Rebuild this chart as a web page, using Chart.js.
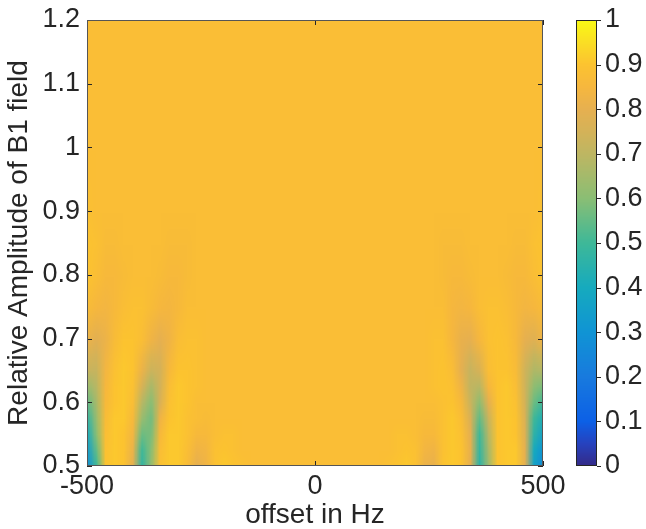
<!DOCTYPE html>
<html>
<head>
<meta charset="utf-8">
<script src="https://cdn.jsdelivr.net/npm/chart.js@4/dist/chart.umd.min.js"></script>
<style>
  html, body { margin: 0; padding: 0; background: #fff; }
</style>
</head>
<body>
<canvas id="map" width="646" height="529"></canvas>
<script>
// offset in Hz (columns of the map)
const offsets = [-500, -480, -460, -440, -420, -400, -380, -360, -340, -320, -300, -280, -260, -240, -220, -200, -180,
  -160, -140, -120, -100, -80, -60, -40, -20, 0, 20, 40, 60, 80, 100, 120, 140, 160,
  180, 200, 220, 240, 260, 280, 300, 320, 340, 360, 380, 400, 420, 440, 460, 480, 500];

// relative B1 amplitude (rows of the map)
const yLevels = [0.5, 0.525, 0.55, 0.575, 0.6, 0.625, 0.65, 0.7, 0.75, 0.8, 0.85, 0.9, 1.0, 1.1, 1.2];

// value, one row per amplitude
const row0500 = [0.28, 0.50, 0.90, 0.91, 0.90, 0.80, 0.47, 0.62, 0.89, 0.91, 0.91, 0.87, 0.80, 0.83, 0.89, 0.91, 0.90,
  0.89, 0.88, 0.88, 0.88, 0.88, 0.88, 0.88, 0.88, 0.88, 0.88, 0.88, 0.88, 0.88, 0.88, 0.88, 0.88, 0.89,
  0.90, 0.91, 0.89, 0.82, 0.81, 0.90, 0.91, 0.90, 0.80, 0.46, 0.64, 0.90, 0.91, 0.91, 0.80, 0.36, 0.26];
const row0525 = [0.33, 0.55, 0.89, 0.91, 0.90, 0.82, 0.50, 0.60, 0.88, 0.91, 0.91, 0.88, 0.83, 0.84, 0.89, 0.90, 0.89,
  0.88, 0.88, 0.88, 0.88, 0.88, 0.88, 0.88, 0.88, 0.88, 0.88, 0.88, 0.88, 0.88, 0.88, 0.88, 0.88, 0.88,
  0.89, 0.90, 0.89, 0.84, 0.83, 0.89, 0.91, 0.90, 0.81, 0.48, 0.66, 0.90, 0.91, 0.91, 0.80, 0.40, 0.30];
const row0550 = [0.40, 0.60, 0.88, 0.91, 0.90, 0.84, 0.56, 0.58, 0.86, 0.91, 0.91, 0.89, 0.86, 0.86, 0.88, 0.89, 0.89,
  0.88, 0.88, 0.88, 0.88, 0.88, 0.88, 0.88, 0.88, 0.88, 0.88, 0.88, 0.88, 0.88, 0.88, 0.88, 0.88, 0.88,
  0.89, 0.89, 0.88, 0.86, 0.86, 0.89, 0.91, 0.89, 0.80, 0.50, 0.69, 0.90, 0.91, 0.90, 0.78, 0.46, 0.36];
const row0575 = [0.47, 0.63, 0.87, 0.91, 0.91, 0.86, 0.63, 0.57, 0.83, 0.90, 0.91, 0.89, 0.88, 0.87, 0.88, 0.88, 0.88,
  0.88, 0.88, 0.88, 0.88, 0.88, 0.88, 0.88, 0.88, 0.88, 0.88, 0.88, 0.88, 0.88, 0.88, 0.88, 0.88, 0.88,
  0.88, 0.88, 0.88, 0.87, 0.87, 0.89, 0.91, 0.88, 0.77, 0.55, 0.73, 0.90, 0.91, 0.90, 0.77, 0.50, 0.42];
const row0600 = [0.55, 0.66, 0.86, 0.90, 0.91, 0.88, 0.69, 0.60, 0.77, 0.89, 0.91, 0.90, 0.88, 0.88, 0.88, 0.88, 0.88,
  0.88, 0.88, 0.88, 0.88, 0.88, 0.88, 0.88, 0.88, 0.88, 0.88, 0.88, 0.88, 0.88, 0.88, 0.88, 0.88, 0.88,
  0.88, 0.88, 0.88, 0.88, 0.88, 0.89, 0.90, 0.86, 0.73, 0.61, 0.80, 0.90, 0.91, 0.89, 0.75, 0.56, 0.50];
const row0625 = [0.63, 0.69, 0.85, 0.90, 0.91, 0.89, 0.76, 0.66, 0.75, 0.88, 0.91, 0.90, 0.89, 0.88, 0.88, 0.88, 0.88,
  0.88, 0.88, 0.88, 0.88, 0.88, 0.88, 0.88, 0.88, 0.88, 0.88, 0.88, 0.88, 0.88, 0.88, 0.88, 0.88, 0.88,
  0.88, 0.88, 0.88, 0.88, 0.89, 0.90, 0.89, 0.83, 0.71, 0.69, 0.85, 0.90, 0.91, 0.88, 0.74, 0.61, 0.58];
const row0650 = [0.72, 0.72, 0.84, 0.89, 0.91, 0.90, 0.82, 0.73, 0.75, 0.86, 0.90, 0.90, 0.89, 0.88, 0.88, 0.88, 0.88,
  0.88, 0.88, 0.88, 0.88, 0.88, 0.88, 0.88, 0.88, 0.88, 0.88, 0.88, 0.88, 0.88, 0.88, 0.88, 0.88, 0.88,
  0.88, 0.88, 0.88, 0.88, 0.89, 0.90, 0.88, 0.80, 0.72, 0.76, 0.88, 0.90, 0.90, 0.87, 0.74, 0.67, 0.68];
const row0700 = [0.82, 0.79, 0.82, 0.87, 0.90, 0.90, 0.88, 0.83, 0.80, 0.83, 0.88, 0.89, 0.89, 0.88, 0.88, 0.88, 0.88,
  0.88, 0.88, 0.88, 0.88, 0.88, 0.88, 0.88, 0.88, 0.88, 0.88, 0.88, 0.88, 0.88, 0.88, 0.88, 0.88, 0.88,
  0.88, 0.88, 0.88, 0.88, 0.89, 0.89, 0.85, 0.81, 0.80, 0.85, 0.89, 0.90, 0.89, 0.86, 0.80, 0.78, 0.83];
const row0750 = [0.87, 0.85, 0.84, 0.86, 0.88, 0.89, 0.89, 0.87, 0.85, 0.845, 0.86, 0.88, 0.88, 0.88, 0.88, 0.88, 0.88,
  0.88, 0.88, 0.88, 0.88, 0.88, 0.88, 0.88, 0.88, 0.88, 0.88, 0.88, 0.88, 0.88, 0.88, 0.88, 0.88, 0.88,
  0.88, 0.88, 0.88, 0.88, 0.88, 0.88, 0.85, 0.84, 0.85, 0.88, 0.89, 0.89, 0.88, 0.86, 0.84, 0.85, 0.87];
const row0800 = [0.90, 0.88, 0.86, 0.86, 0.87, 0.88, 0.88, 0.88, 0.87, 0.86, 0.86, 0.87, 0.88, 0.88, 0.88, 0.88, 0.88,
  0.88, 0.88, 0.88, 0.88, 0.88, 0.88, 0.88, 0.88, 0.88, 0.88, 0.88, 0.88, 0.88, 0.88, 0.88, 0.88, 0.88,
  0.88, 0.88, 0.88, 0.88, 0.88, 0.87, 0.86, 0.86, 0.87, 0.88, 0.88, 0.88, 0.87, 0.86, 0.86, 0.88, 0.90];
const row0850 = [0.90, 0.89, 0.87, 0.87, 0.88, 0.88, 0.88, 0.88, 0.88, 0.87, 0.87, 0.87, 0.88, 0.88, 0.88, 0.88, 0.88,
  0.88, 0.88, 0.88, 0.88, 0.88, 0.88, 0.88, 0.88, 0.88, 0.88, 0.88, 0.88, 0.88, 0.88, 0.88, 0.88, 0.88,
  0.88, 0.88, 0.88, 0.88, 0.88, 0.87, 0.87, 0.87, 0.88, 0.88, 0.88, 0.88, 0.88, 0.87, 0.87, 0.89, 0.90];
const row0900 = [0.89, 0.88, 0.88, 0.88, 0.88, 0.88, 0.88, 0.88, 0.88, 0.88, 0.88, 0.88, 0.88, 0.88, 0.88, 0.88, 0.88,
  0.88, 0.88, 0.88, 0.88, 0.88, 0.88, 0.88, 0.88, 0.88, 0.88, 0.88, 0.88, 0.88, 0.88, 0.88, 0.88, 0.88,
  0.88, 0.88, 0.88, 0.88, 0.88, 0.88, 0.88, 0.88, 0.88, 0.88, 0.88, 0.88, 0.88, 0.88, 0.88, 0.88, 0.89];
const row1000 = [0.88, 0.88, 0.88, 0.88, 0.88, 0.88, 0.88, 0.88, 0.88, 0.88, 0.88, 0.88, 0.88, 0.88, 0.88, 0.88, 0.88,
  0.88, 0.88, 0.88, 0.88, 0.88, 0.88, 0.88, 0.88, 0.88, 0.88, 0.88, 0.88, 0.88, 0.88, 0.88, 0.88, 0.88,
  0.88, 0.88, 0.88, 0.88, 0.88, 0.88, 0.88, 0.88, 0.88, 0.88, 0.88, 0.88, 0.88, 0.88, 0.88, 0.88, 0.88];
const row1100 = [0.88, 0.88, 0.88, 0.88, 0.88, 0.88, 0.88, 0.88, 0.88, 0.88, 0.88, 0.88, 0.88, 0.88, 0.88, 0.88, 0.88,
  0.88, 0.88, 0.88, 0.88, 0.88, 0.88, 0.88, 0.88, 0.88, 0.88, 0.88, 0.88, 0.88, 0.88, 0.88, 0.88, 0.88,
  0.88, 0.88, 0.88, 0.88, 0.88, 0.88, 0.88, 0.88, 0.88, 0.88, 0.88, 0.88, 0.88, 0.88, 0.88, 0.88, 0.88];
const row1200 = [0.88, 0.88, 0.88, 0.88, 0.88, 0.88, 0.88, 0.88, 0.88, 0.88, 0.88, 0.88, 0.88, 0.88, 0.88, 0.88, 0.88,
  0.88, 0.88, 0.88, 0.88, 0.88, 0.88, 0.88, 0.88, 0.88, 0.88, 0.88, 0.88, 0.88, 0.88, 0.88, 0.88, 0.88,
  0.88, 0.88, 0.88, 0.88, 0.88, 0.88, 0.88, 0.88, 0.88, 0.88, 0.88, 0.88, 0.88, 0.88, 0.88, 0.88, 0.88];
const fieldRows = [row0500, row0525, row0550, row0575, row0600, row0625, row0650, row0700,
  row0750, row0800, row0850, row0900, row1000, row1100, row1200];

// tick values
const xTicks = [-500, 0, 500];
const yTicks = [0.5, 0.6, 0.7, 0.8, 0.9, 1, 1.1, 1.2];
const cbTicks = [0, 0.1, 0.2, 0.3, 0.4, 0.5, 0.6, 0.7, 0.8, 0.9, 1];

// colour map, sampled from the colour bar of the original
const parulaStops = [
  [0.00, 52, 42, 135], [0.05, 38, 66, 190], [0.10, 12, 96, 230], [0.20, 24, 122, 222],
  [0.30, 16, 148, 212], [0.40, 22, 170, 190], [0.50, 62, 184, 152], [0.60, 138, 190, 116],
  [0.70, 190, 182, 98], [0.75, 212, 178, 88], [0.80, 230, 176, 80], [0.85, 246, 183, 62],
  [0.90, 252, 195, 48], [0.95, 250, 222, 36], [1.00, 249, 250, 20]
];
function colourOf(v) {
  v = Math.min(1, Math.max(0, v));
  for (let i = 1; i < parulaStops.length; i++) {
    const a = parulaStops[i - 1], b = parulaStops[i];
    if (v <= b[0]) {
      const t = (v - a[0]) / (b[0] - a[0]);
      return [1, 2, 3].map(k => Math.round(a[k] + (b[k] - a[k]) * t));
    }
  }
  return parulaStops[parulaStops.length - 1].slice(1);
}

// one pixel per cell, top row = highest amplitude
let fieldImage = null;
function buildImage() {
  if (fieldImage) return fieldImage;
  const cols = offsets.length, rows = yLevels.length;
  const c = document.createElement('canvas');
  c.width = cols; c.height = rows;
  const g = c.getContext('2d');
  const img = g.createImageData(cols, rows);
  for (let r = 0; r < rows; r++) {
    for (let i = 0; i < cols; i++) {
      const rgb = colourOf(fieldRows[r][i]);
      const p = ((rows - 1 - r) * cols + i) * 4;
      img.data[p] = rgb[0]; img.data[p + 1] = rgb[1]; img.data[p + 2] = rgb[2]; img.data[p + 3] = 255;
    }
  }
  g.putImageData(img, 0, 0);
  fieldImage = c;
  return c;
}

const ink = '#262626';

const fieldPlugin = {
  id: 'field',
  beforeDatasetsDraw(chart) {
    const {ctx, chartArea: area, scales: {x, y}} = chart;
    const img = buildImage();
    const n = yLevels.length;
    const x0 = x.getPixelForValue(offsets[0]);
    const x1 = x.getPixelForValue(offsets[offsets.length - 1]);
    ctx.save();
    ctx.beginPath();
    ctx.rect(area.left, area.top, area.width, area.height);
    ctx.clip();
    ctx.imageSmoothingEnabled = true;
    ctx.imageSmoothingQuality = 'low';
    // smooth shading between neighbouring rows
    for (let k = 0; k < n - 1; k++) {
      const top = Math.round(y.getPixelForValue(yLevels[k + 1]));
      const bottom = Math.round(y.getPixelForValue(yLevels[k]));
      const i = n - 2 - k;
      ctx.drawImage(img, 0.5, i + 0.5, offsets.length - 1, 1, x0, top, x1 - x0, bottom - top);
    }
    ctx.restore();
  },
  afterDraw(chart) {
    const {ctx, chartArea: area, scales: {x, y, cb}} = chart;
    ctx.save();
    // colour bar
    const barLeft = area.right + 33, barW = 21;
    const barTop = Math.round(cb.getPixelForValue(1));
    const barBottom = Math.round(cb.getPixelForValue(0));
    for (let py = barTop; py < barBottom; py++) {
      const rgb = colourOf(cb.getValueForPixel(py + 0.5));
      ctx.fillStyle = `rgb(${rgb[0]},${rgb[1]},${rgb[2]})`;
      ctx.fillRect(barLeft, py, barW, 1);
    }
    ctx.strokeStyle = ink;
    ctx.lineWidth = 1;
    ctx.strokeRect(barLeft + 0.5, barTop + 0.5, barW - 1, barBottom - barTop - 1);
    ctx.beginPath();
    cb.ticks.forEach(t => {
      const py = Math.round(cb.getPixelForValue(t.value)) + 0.5;
      ctx.moveTo(barLeft + barW, py);
      ctx.lineTo(barLeft + barW + 4, py);
    });
    // box and inward ticks
    y.ticks.forEach(t => {
      const py = Math.round(y.getPixelForValue(t.value)) + 0.5;
      ctx.moveTo(area.left, py); ctx.lineTo(area.left + 5, py);
      ctx.moveTo(area.right, py); ctx.lineTo(area.right - 5, py);
    });
    x.ticks.forEach(t => {
      const px = Math.round(x.getPixelForValue(t.value)) + 0.5;
      ctx.moveTo(px, area.top); ctx.lineTo(px, area.top + 5);
      ctx.moveTo(px, area.bottom); ctx.lineTo(px, area.bottom - 5);
    });
    ctx.stroke();
    ctx.strokeStyle = '#555';
    ctx.strokeRect(area.left + 0.5, area.top + 0.5, area.width - 1, area.height - 1);
    ctx.restore();
  }
};

// fixed axis sizes, so the plot box sits where it does in the original
function fixSize(prop, size) {
  return s => {
    s[prop] = size;
    s.paddingTop = 0; s.paddingBottom = 0; s.paddingLeft = 0; s.paddingRight = 0;
  };
}

const tickFont = {family: '"Liberation Sans", Arial, sans-serif', size: 27};
const titleFont = {family: '"Liberation Sans", Arial, sans-serif', size: 28, lineHeight: 1};

new Chart(document.getElementById('map'), {
  type: 'scatter',
  data: {datasets: [{data: []}]},
  options: {
    responsive: false,
    animation: false,
    devicePixelRatio: 1,
    layout: {padding: {top: 20, left: 0, right: 0, bottom: 0}},
    plugins: {legend: {display: false}, tooltip: {enabled: false}},
    scales: {
      x: {
        type: 'linear', position: 'bottom', min: -500, max: 500,
        grid: {display: false, drawTicks: false}, border: {display: false},
        afterBuildTicks: s => { s.ticks = xTicks.map(v => ({value: v})); },
        afterFit: fixSize('height', 63),
        ticks: {font: tickFont, color: ink, padding: 4, maxRotation: 0, autoSkip: false,
          callback: v => String(v)},
        title: {display: true, text: 'offset in Hz', font: titleFont, color: ink, padding: {top: 0, bottom: 0}}
      },
      y: {
        type: 'linear', position: 'left', min: 0.5, max: 1.2,
        grid: {display: false, drawTicks: false}, border: {display: false},
        afterBuildTicks: s => { s.ticks = yTicks.map(v => ({value: v})); },
        afterFit: fixSize('width', 87),
        ticks: {font: tickFont, color: ink, padding: 7, autoSkip: false, callback: v => String(v)},
        title: {display: true, text: 'Relative Amplitude of B1 field', font: titleFont, color: ink,
          padding: {top: 5, bottom: 0}}
      },
      cb: {
        type: 'linear', position: 'right', min: 0, max: 1,
        grid: {display: false, drawTicks: false}, border: {display: false},
        afterBuildTicks: s => { s.ticks = cbTicks.map(v => ({value: v})); },
        afterFit: fixSize('width', 103),
        ticks: {font: tickFont, color: ink, padding: 62, autoSkip: false, callback: v => String(v)}
      }
    }
  },
  plugins: [fieldPlugin]
});
</script>
</body>
</html>
